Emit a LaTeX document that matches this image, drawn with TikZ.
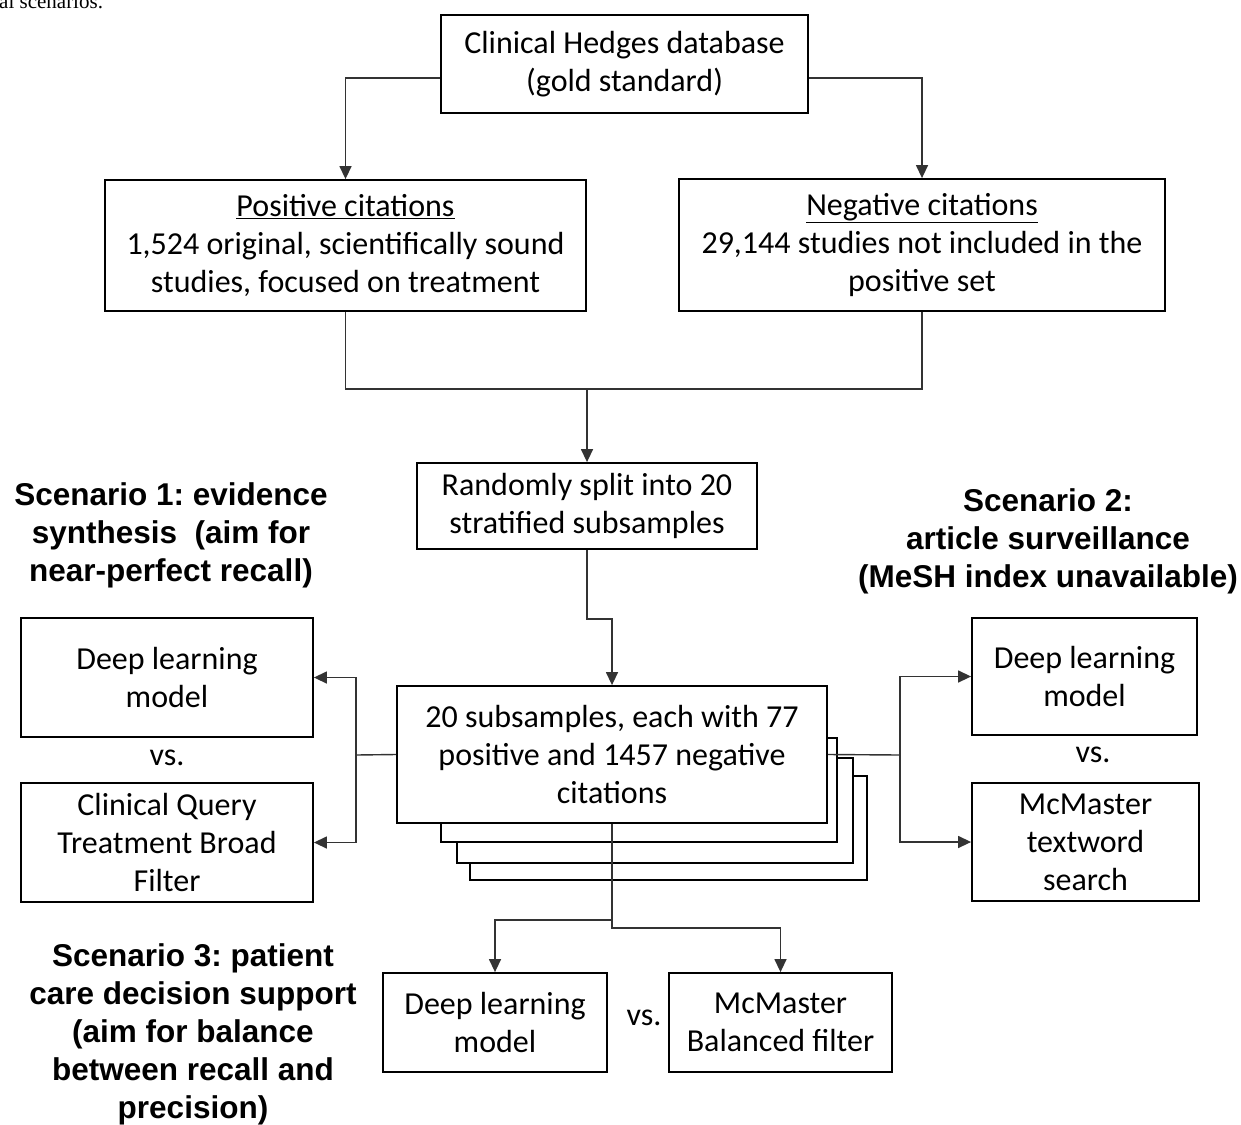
\documentclass[tikz,border=0pt]{standalone}
\usepackage{fontspec}
\setmainfont{Carlito}
\newfontfamily\headfont{Liberation Sans}
\newfontfamily\capfont{Liberation Serif}
\usetikzlibrary{arrows.meta}
\begin{document}
\frenchspacing
\begin{tikzpicture}[x=1pt,y=-1pt,
  box/.style={draw,line width=1.8pt,fill=white,align=center,inner sep=0pt,font=\fontsize{32}{38}\selectfont},
  link/.style={line width=1.4pt,black!80},
  arr/.style={link,-{Triangle[length=13pt,width=12pt]}},
  head/.style={align=center,font=\headfont\bfseries\fontsize{31.5}{38}\selectfont}]
\useasboundingbox(0,0)rectangle(1241,1124);
\node[anchor=base west,inner sep=0pt,font=\capfont\fontsize{21}{24}\selectfont](cap)at(-1,9){al scenarios.};
% top part
\node[box,minimum width=367pt,minimum height=98pt](db)at(624.5,64){Clinical Hedges database\\(gold standard)};
\node[box,minimum width=481pt,minimum height=131pt](pos)at(345.5,245.5){\underline{Positive citations}\\1,524 original, scientifically sound\\studies, focused on treatment};
\node[box,minimum width=486pt,minimum height=132pt](neg)at(922,245){\underline{Negative citations}\\29,144 studies not included in the\\positive set};
\node[box,minimum width=340pt,minimum height=86pt](split)at(587,506){Randomly split into 20\\stratified subsamples};
% stacked subsamples
\draw[line width=1.8pt,fill=white](470,776)rectangle(867,880);
\draw[line width=1.8pt,fill=white](457,758)rectangle(853,863);
\draw[line width=1.8pt,fill=white](441,738)rectangle(837,842);
\node[box,minimum width=430pt,minimum height=137pt](sub)at(612,754.5){20 subsamples, each with 77\\positive and 1457 negative\\citations};
% scenario 1
\node[head](s1)at(171,535){Scenario 1: evidence\\synthesis\ \ (aim for\\near-perfect recall)};
\node[box,minimum width=292pt,minimum height=119pt](dl1)at(167,677.5){Deep learning\\model};
\node[font=\fontsize{32}{38}\selectfont](vs1)at(167,758){vs.};
\node[box,minimum width=292pt,minimum height=119pt](cq)at(167,842.5){Clinical Query\\Treatment Broad\\Filter};
% scenario 2
\node[head](s2)at(1048,541){Scenario 2:\\article surveillance\\(MeSH index unavailable)};
\node[box,minimum width=225pt,minimum height=117pt](dl2)at(1084.5,676.5){Deep learning\\model};
\node[font=\fontsize{32}{38}\selectfont](vs2)at(1093,755){vs.};
\node[box,minimum width=227pt,minimum height=118pt](mt)at(1085.5,842){McMaster\\textword\\search};
% scenario 3
\node[head](s3)at(193,1034){Scenario 3: patient\\care decision support\\(aim for balance\\between recall and\\precision)};
\node[box,minimum width=224pt,minimum height=99pt](dl3)at(495,1022.5){Deep learning\\model};
\node[font=\fontsize{32}{38}\selectfont](vs3)at(644,1018){vs.};
\node[box,minimum width=223pt,minimum height=99pt](bal)at(780.5,1022.5){McMaster\\Balanced filter};
% connectors
\draw[arr]([yshift=-14pt]db.west)-|(pos.north);
\draw[arr]([yshift=-14pt]db.east)-|(neg.north);
\draw[link](pos.south)--++(0,77)-|(neg.south);
\coordinate(mj)at(587,388);
\draw[arr](mj)--(split.north);
\draw[arr](split.south)--++(0,69)-|(sub.north);
\coordinate(lj)at(356,755);\coordinate(rj)at(900,755);
\draw[link](sub.west)--(lj);\draw[arr](lj)|-(dl1.east);\draw[arr](lj)|-(cq.east);
\draw[link](sub.east)--(rj);\draw[arr](rj)|-(dl2.west);\draw[arr](rj)|-(mt.west);
\draw[arr](sub.south)--++(0,96)-|(dl3.north);
\draw[arr](sub.south)--++(0,104)-|(bal.north);
\end{tikzpicture}
\end{document}
